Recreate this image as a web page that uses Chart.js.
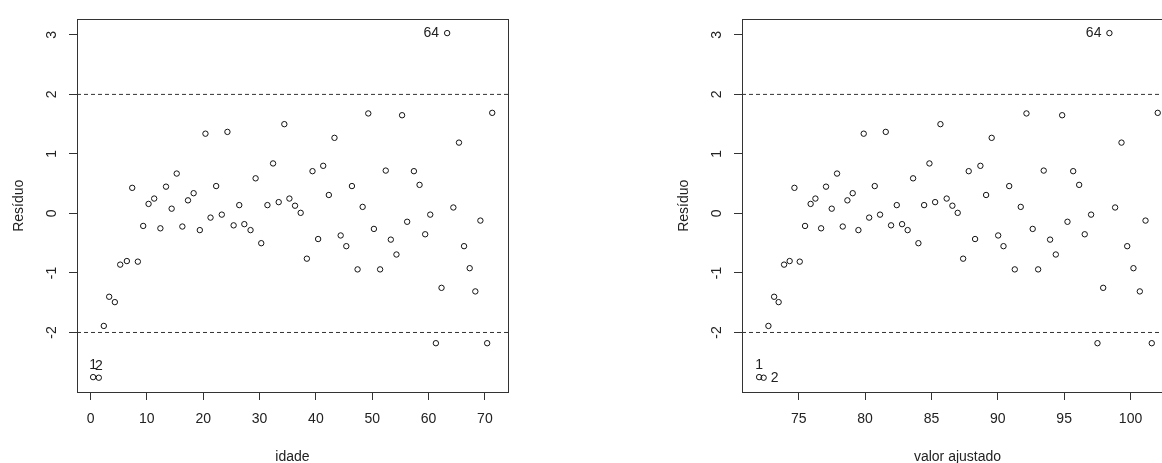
<!DOCTYPE html>
<html lang="pt">
<head>
<meta charset="utf-8">
<title>Resíduos</title>
<script src="https://cdn.jsdelivr.net/npm/chart.js@4.4.1/dist/chart.umd.min.js"></script>
<style>
  html, body { margin: 0; padding: 0; background: #fff; overflow: hidden; width: 1162px; height: 463px; }
  canvas { position: absolute; top: 0; }
  #graficoIdade { left: 0; }
  #graficoAjustado { left: 665px; }
</style>
</head>
<body>
<canvas id="graficoIdade" width="560" height="472"></canvas>
<canvas id="graficoAjustado" width="560" height="472"></canvas>
<script>
// resíduos padronizados, na ordem das observações
const residuo = [
  -2.75, -2.76, -1.89, -1.40, -1.49, -0.86, -0.80, 0.43, -0.81, -0.21,
  0.16, 0.25, -0.25, 0.45, 0.08, 0.67, -0.22, 0.22, 0.34, -0.28,
  1.34, -0.07, 0.46, -0.02, 1.37, -0.20, 0.14, -0.18, -0.28, 0.59,
  -0.50, 0.14, 0.84, 0.19, 1.50, 0.25, 0.13, 0.01, -0.76, 0.71,
  -0.43, 0.80, 0.31, 1.27, -0.37, -0.55, 0.46, -0.94, 0.11, 1.68,
  -0.26, -0.94, 0.72, -0.44, -0.69, 1.65, -0.14, 0.71, 0.48, -0.35,
  -0.02, -2.18, -1.25, 3.03, 0.10, 1.19, -0.55, -0.92, -1.31, -0.12,
  -2.18, 1.69
];
const idade = [
  0.46, 1.47, 2.36, 3.31, 4.32, 5.27, 6.45, 7.4, 8.4, 9.35,
  10.3, 11.3, 12.4, 13.4, 14.4, 15.3, 16.3, 17.3, 18.3, 19.4,
  20.4, 21.3, 22.3, 23.3, 24.3, 25.4, 26.4, 27.3, 28.4, 29.3,
  30.3, 31.4, 32.4, 33.4, 34.4, 35.3, 36.3, 37.3, 38.4, 39.4,
  40.4, 41.3, 42.3, 43.3, 44.4, 45.4, 46.4, 47.4, 48.3, 49.3,
  50.3, 51.4, 52.4, 53.3, 54.3, 55.3, 56.2, 57.4, 58.4, 59.4,
  60.3, 61.3, 62.3, 63.3, 64.4, 65.4, 66.3, 67.3, 68.3, 69.2,
  70.4, 71.3
];
const valorAjustado = [
  72.02, 72.36, 72.72, 73.15, 73.49, 73.90, 74.32, 74.68, 75.08, 75.48,
  75.90, 76.26, 76.69, 77.06, 77.49, 77.89, 78.32, 78.67, 79.07, 79.50,
  79.90, 80.31, 80.73, 81.13, 81.56, 81.96, 82.39, 82.79, 83.21, 83.62,
  84.02, 84.45, 84.85, 85.28, 85.68, 86.15, 86.58, 86.98, 87.39, 87.81,
  88.29, 88.69, 89.12, 89.54, 90.03, 90.43, 90.86, 91.28, 91.73, 92.16,
  92.63, 93.04, 93.46, 93.94, 94.37, 94.85, 95.25, 95.68, 96.13, 96.55,
  97.03, 97.51, 97.94, 98.41, 98.84, 99.32, 99.75, 100.22, 100.70, 101.13,
  101.60, 102.05
];

const idadeTicks = [0, 10, 20, 30, 40, 50, 60, 70];
const ajustadoTicks = [75, 80, 85, 90, 95, 100];
const residuoTicks = [-2, -1, 0, 1, 2, 3];
const limites = [-2, 2];

// faixa dos eixos (como no R, 4% além dos dados)
const idadeRange = [-2.4, 74.1];
const ajustadoRange = [70.73, 103.2];
const residuoRange = [-3.0, 3.26];

// pontos identificados: [índice, rótulo, lado]
const destaquesIdade = [[0, '1', 'acima'], [1, '2', 'acima'], [63, '64', 'esquerda']];
const destaquesAjustado = [[0, '1', 'acima'], [1, '2', 'direita'], [63, '64', 'esquerda']];

const fonte = { family: "'Liberation Sans', Arial, sans-serif", size: 14 };
const corTexto = '#222';
const corLinha = '#333';

// moldura em volta da área do gráfico
const caixa = {
  id: 'caixa',
  afterDatasetsDraw(chart) {
    const { ctx, chartArea: a } = chart;
    ctx.save();
    ctx.strokeStyle = corLinha;
    ctx.lineWidth = 1;
    ctx.strokeRect(Math.round(a.left) + 0.5, Math.round(a.top) + 0.5,
      Math.round(a.right - a.left), Math.round(a.bottom - a.top));
    ctx.restore();
  }
};

// rótulos dos pontos identificados
const destaques = {
  id: 'destaques',
  afterDatasetsDraw(chart, args, opts) {
    const pontos = chart.getDatasetMeta(0).data;
    const ctx = chart.ctx;
    ctx.save();
    ctx.font = `${fonte.size}px ${fonte.family}`;
    ctx.fillStyle = corTexto;
    ctx.textBaseline = 'middle';
    (opts.itens || []).forEach(([i, texto, lado]) => {
      const { x, y } = pontos[i];
      if (lado === 'acima') {
        ctx.textAlign = 'center';
        ctx.fillText(texto, x, y - 12);
      } else if (lado === 'esquerda') {
        ctx.textAlign = 'right';
        ctx.fillText(texto, x - 8, y);
      } else {
        ctx.textAlign = 'left';
        ctx.fillText(texto, x + 7, y);
      }
    });
    ctx.restore();
  }
};

function grafico(id, xs, xTicks, xRange, xTitulo, itens) {
  const pontos = xs.map((x, i) => ({ x, y: residuo[i] }));
  const tracejadas = limites.map(v => ({
    type: 'line',
    data: [{ x: xRange[0], y: v }, { x: xRange[1], y: v }],
    borderColor: corLinha,
    borderWidth: 1,
    borderDash: [4, 3],
    pointRadius: 0,
    fill: false
  }));

  return new Chart(document.getElementById(id), {
    type: 'scatter',
    data: {
      datasets: [{
        data: pontos,
        pointRadius: 2.7,
        borderWidth: 1,
        borderColor: '#111',
        backgroundColor: 'rgba(0,0,0,0)'
      }, ...tracejadas]
    },
    options: {
      responsive: false,
      animation: false,
      devicePixelRatio: 1,
      events: [],
      layout: { padding: { left: 0, top: 13, right: 52, bottom: 0 } },
      plugins: {
        legend: { display: false },
        tooltip: { enabled: false },
        destaques: { itens }
      },
      scales: {
        x: {
          type: 'linear',
          position: 'bottom',
          min: xRange[0],
          max: xRange[1],
          afterBuildTicks: s => { s.ticks = xTicks.map(v => ({ value: v })); },
          afterFit: s => { s.height = 80; },
          grid: { drawOnChartArea: false, drawTicks: true, tickLength: 8, color: corLinha },
          border: { display: false },
          ticks: { color: corTexto, font: fonte, padding: 11, maxRotation: 0, autoSkip: false },
          title: { display: true, text: xTitulo, color: corTexto, font: fonte, padding: { top: 0, bottom: 6.6 } }
        },
        y: {
          type: 'linear',
          min: residuoRange[0],
          max: residuoRange[1],
          afterBuildTicks: s => { s.ticks = residuoTicks.map(v => ({ value: v })); },
          afterFit: s => { s.width = 77; },
          grid: { drawOnChartArea: false, drawTicks: true, tickLength: 8, color: corLinha },
          border: { display: false },
          ticks: { color: corTexto, font: fonte, padding: 11, minRotation: 90, maxRotation: 90, crossAlign: 'center', autoSkip: false },
          title: { display: true, text: 'Resíduo', color: corTexto, font: fonte, padding: { top: 10.6, bottom: 0 } }
        }
      }
    },
    plugins: [caixa, destaques]
  });
}

grafico('graficoIdade', idade, idadeTicks, idadeRange, 'idade', destaquesIdade);
grafico('graficoAjustado', valorAjustado, ajustadoTicks, ajustadoRange, 'valor ajustado', destaquesAjustado);
</script>
</body>
</html>
